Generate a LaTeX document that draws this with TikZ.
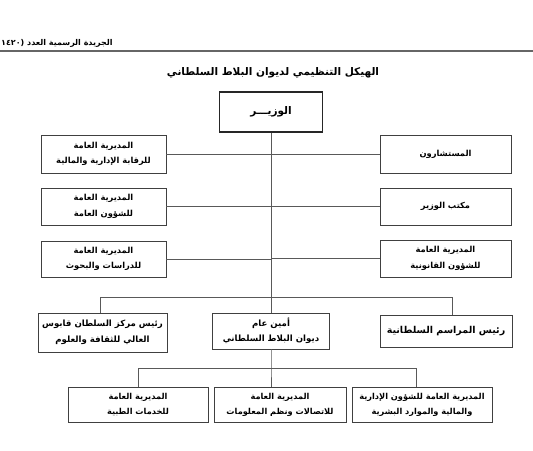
\documentclass[tikz,border=0pt]{standalone}
\usepackage{fontspec}
\TeXXeTstate=1
\newfontfamily\arabicfont[Script=Arabic]{DejaVu Sans}
\newcommand{\artxt}[1]{{\arabicfont\bfseries\beginR #1\endR}}
\begin{document}
\begin{tikzpicture}[x=1pt,y=-1pt,
  box/.style={draw=black!75,line width=0.8pt,fill=white,inner sep=0pt,align=center,
    font=\fontsize{8.3}{15.5}\selectfont},
  conn/.style={draw=black!65,line width=0.7pt}]
\useasboundingbox (0,0) rectangle (533,450);
% header
\node[anchor=west,inner sep=0pt,font=\fontsize{8}{9}\selectfont] (hdr) at (1,43) {\artxt{الجريدة الرسمية العدد (١٤٢٠}};
\coordinate (hl) at (0,51);
\coordinate (hr) at (533,51);
\draw[draw=black!60,line width=1.2pt] (hl) -- (hr);
% title
\node[inner sep=0pt,font=\fontsize{10.5}{12}\selectfont] (title) at (273,73) {\artxt{الهيكل التنظيمي لديوان البلاط السلطاني}};
% minister
\node[box,line width=1.3pt,draw=black!85,minimum width=103pt,minimum height=40pt,font=\fontsize{10.5}{13}\selectfont] (min) at (271,112) {\artxt{الوزيـــر}};
% left boxes
\node[box,minimum width=125pt,minimum height=38pt] (L1) at (103.5,154) {\artxt{المديرية العامة}\\\artxt{للرقابة الإدارية والمالية}};
\node[box,minimum width=125pt,minimum height=37pt] (L2) at (103.5,206.5) {\artxt{المديرية العامة}\\\artxt{للشؤون العامة}};
\node[box,minimum width=125pt,minimum height=36pt] (L3) at (103.5,259) {\artxt{المديرية العامة}\\\artxt{للدراسات والبحوث}};
% right boxes
\node[box,minimum width=131pt,minimum height=38pt] (R1) at (445.5,154) {\artxt{المستشارون}};
\node[box,minimum width=131pt,minimum height=37pt] (R2) at (445.5,206.5) {\artxt{مكتب الوزير}};
\node[box,minimum width=131pt,minimum height=37pt] (R3) at (445.5,258.5) {\artxt{المديرية العامة}\\\artxt{للشؤون القانونية}};
% middle row
\node[box,minimum width=129pt,minimum height=39pt,font=\fontsize{8.6}{15.5}\selectfont] (C1) at (102.5,332.5) {\artxt{رئيس مركز السلطان قابوس}\\\artxt{العالي للثقافة والعلوم}};
\node[box,minimum width=117pt,minimum height=36pt,font=\fontsize{8.6}{14.5}\selectfont] (C2) at (271,331) {\artxt{أمين عام}\\\artxt{ديوان البلاط السلطاني}};
\node[box,minimum width=132pt,minimum height=32pt,font=\fontsize{9.5}{15}\selectfont] (C3) at (446,331) {\artxt{رئيس المراسم السلطانية}};
% bottom row
\node[box,minimum width=140pt,minimum height=35pt,font=\fontsize{8.2}{15}\selectfont] (B1) at (138,404.5) {\artxt{المديرية العامة}\\\artxt{للخدمات الطبية}};
\node[box,minimum width=132pt,minimum height=35pt,font=\fontsize{8.2}{15}\selectfont] (B2) at (280,404.5) {\artxt{المديرية العامة}\\\artxt{للاتصالات ونظم المعلومات}};
\node[box,minimum width=140pt,minimum height=35pt,font=\fontsize{8.2}{15}\selectfont] (B3) at (422,404.5) {\artxt{المديرية العامة للشؤون الإدارية}\\\artxt{والمالية والموارد البشرية}};
% spine and buses
\coordinate (bus1) at (271,297);
\coordinate (bus1l) at (100,297);
\coordinate (bus1r) at (452,297);
\coordinate (bus2) at (271,368);
\coordinate (bus2l) at (138,368);
\coordinate (bus2r) at (416,368);
\draw[conn] (min.south) -- (C2.north);
\draw[conn] (L1.east) -- (L1.east -| min.south);
\draw[conn] (L2.east) -- (L2.east -| min.south);
\draw[conn] (L3.east) -- (L3.east -| min.south);
\draw[conn] (R1.west) -- (R1.west -| min.south);
\draw[conn] (R2.west) -- (R2.west -| min.south);
\draw[conn] (R3.west) -- (R3.west -| min.south);
\draw[conn] (bus1l) -- (bus1r);
\draw[conn] (bus1l) -- (bus1l |- C1.north);
\draw[conn] (bus1r) -- (bus1r |- C3.north);
\draw[conn] (C2.south) -- (bus2) -- (bus2 |- B2.north);
\draw[conn] (bus2l) -- (bus2r);
\draw[conn] (bus2l) -- (bus2l |- B1.north);
\draw[conn] (bus2r) -- (bus2r |- B3.north);
\end{tikzpicture}
\end{document}
